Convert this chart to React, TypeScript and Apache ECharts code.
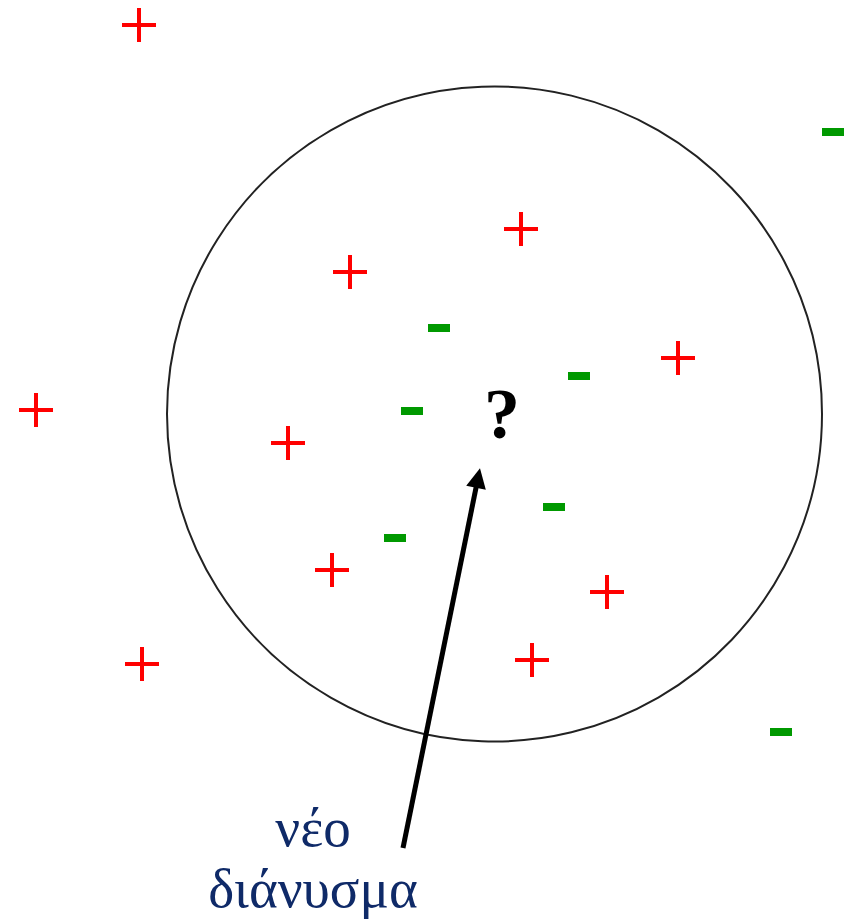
import React, { useEffect, useRef } from "react";
import * as echarts from "echarts";

const W = 851;
const H = 919;

// positive examples (x, y in picture units, y downward)
const plusPoints: [number, number][] = [
  [139, 25],
  [521, 229],
  [350, 272],
  [678, 358],
  [36, 410],
  [288, 443],
  [332, 570],
  [607, 592],
  [142, 664],
  [532, 660],
];

// negative examples
const minusPoints: [number, number][] = [
  [833, 132],
  [439, 328],
  [579, 376],
  [412, 411],
  [554, 507],
  [395, 538],
  [781, 732],
];

// neighbourhood circle: centre and radius
const circleCenter: [number, number] = [494.5, 414];
const circleRadius = 327.5;

// query point
const queryPoint: [number, number] = [502, 414];
const queryLabel = "?";

// arrow from caption to query
const arrowFrom: [number, number] = [403, 848];
const arrowTo: [number, number] = [478, 478];

// caption (two lines) and its centre
const captionLines: string[] = ["νέο", "διάνυσμα"];
const captionPos: [number, number] = [313, 858];

const PLUS_PATH = "path://M15,0H19V15H34V19H19V34H15V19H0V15H15Z";
const TRI_PATH = "path://M9,0L18,20L0,20Z";

export default function App() {
  const ref = useRef<HTMLDivElement>(null);
  useEffect(() => {
    if (!ref.current) return;
    const chart = echarts.init(ref.current, undefined, { renderer: "svg" });
    chart.setOption({
      animation: false,
      backgroundColor: "#ffffff",
      grid: { left: 0, right: 0, top: 0, bottom: 0 },
      xAxis: { type: "value", min: 0, max: W, show: false },
      yAxis: { type: "value", min: 0, max: H, inverse: true, show: false },
      series: [
        {
          type: "custom",
          name: "circle",
          silent: true,
          data: [[circleCenter[0], circleCenter[1], circleRadius]],
          renderItem: (params: any, api: any) => {
            const c = api.coord([api.value(0), api.value(1)]);
            const r = api.size([api.value(2), 0])[0];
            return {
              type: "circle",
              shape: { cx: c[0], cy: c[1], r },
              style: { fill: "none", stroke: "#222222", lineWidth: 2 },
            };
          },
          z: 1,
        },
        {
          type: "scatter",
          name: "plus",
          symbol: PLUS_PATH,
          symbolSize: 34,
          itemStyle: { color: "#ff0000", opacity: 1 },
          data: plusPoints,
          z: 3,
        },
        {
          type: "scatter",
          name: "minus",
          symbol: "rect",
          symbolSize: [22, 8],
          itemStyle: { color: "#009900", opacity: 1 },
          data: minusPoints,
          z: 3,
        },
        {
          type: "lines",
          coordinateSystem: "cartesian2d",
          symbol: ["none", TRI_PATH],
          symbolSize: [18, 20],
          lineStyle: { color: "#000000", width: 5, opacity: 1 },
          data: [{ coords: [arrowFrom, arrowTo] }],
          z: 2,
        },
        {
          type: "scatter",
          name: "query",
          symbolSize: 0,
          itemStyle: { opacity: 1 },
          data: [queryPoint],
          label: {
            show: true,
            position: "inside",
            formatter: () => queryLabel,
            fontFamily: "Liberation Serif, Times New Roman, serif",
            fontWeight: "bold",
            fontSize: 72,
            color: "#000000",
            opacity: 1,
            align: "center",
            verticalAlign: "middle",
          },
          z: 4,
        },
        {
          type: "scatter",
          name: "caption",
          symbolSize: 0,
          itemStyle: { opacity: 1 },
          data: [{ value: captionPos, name: captionLines.join("\n") }],
          label: {
            show: true,
            position: "inside",
            formatter: (p: any) => p.name,
            fontFamily: "Liberation Serif, Times New Roman, serif",
            fontSize: 55,
            lineHeight: 61,
            color: "#0f2a68",
            opacity: 1,
            align: "center",
            verticalAlign: "middle",
          },
          z: 4,
        },
      ],
    });
    return () => chart.dispose();
  }, []);
  return (
    <div
      ref={ref}
      style={{ position: "fixed", left: 0, top: 0, width: W, height: H, background: "#fff" }}
    />
  );
}
